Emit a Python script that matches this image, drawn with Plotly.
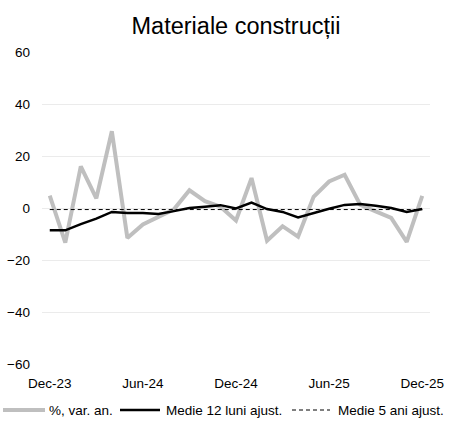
import plotly.graph_objects as go

months = ["Dec-23", "Jan-24", "Feb-24", "Mar-24", "Apr-24", "May-24", "Jun-24", "Jul-24",
          "Aug-24", "Sep-24", "Oct-24", "Nov-24", "Dec-24", "Jan-25", "Feb-25", "Mar-25",
          "Apr-25", "May-25", "Jun-25", "Jul-25", "Aug-25", "Sep-25", "Oct-25", "Nov-25", "Dec-25"]
var_an = [4.8, -13.3, 16, 3.7, 29.5, -11.5, -6.3, -3.5, -0.5, 6.8, 2.6, 0.5, -4.8, 11.5,
          -12.6, -7, -11, 4.3, 10.2, 12.8, 1.3, -1.3, -3.8, -13, 4.7]
medie12 = [-8.6, -8.6, -6.2, -4.1, -1.5, -1.9, -1.9, -2.3, -1.2, 0.0, 0.5, 1.1, -0.2, 2.1,
           -0.4, -1.5, -3.6, -1.9, -0.3, 1.2, 1.5, 0.9, 0.0, -1.5, -0.4]
medie5_val = -0.6
medie5 = [medie5_val] * len(months)
tick_labels = ["Dec-23", "Jun-24", "Dec-24", "Jun-25", "Dec-25"]
y_ticks = [-60, -40, -20, 0, 20, 40, 60]
series_names = ["%, var. an.", "Medie 12 luni ajust.", "Medie 5 ani ajust."]

W, H = 450, 428
ML, MR, MT, MB = 42, 20, 52, 64
PW, PH = W - ML - MR, H - MT - MB

def px_x(px):
    return (px - ML) / PW

def px_y(py):
    return (H - MB - py) / PH

styles = [dict(color="#bfbfbf", width=4),
          dict(color="#000000", width=2.5),
          dict(color="#000000", width=1, dash="4px,3px")]
series = [var_an, medie12, medie5]

fig = go.Figure()
for name, vals, st in zip(series_names, series, styles):
    fig.add_trace(go.Scatter(x=months, y=vals, mode="lines", name=name, line=st,
                             showlegend=False))

# custom legend (line sample + label), laid out like the reference
legend_layout = [(3, 45, 48), (120, 160, 165), (292, 330, 337)]
LEG_Y = 410
for (s0, s1, tx), name, st in zip(legend_layout, series_names, styles):
    fig.add_shape(type="line", xref="paper", yref="paper",
                  x0=px_x(s0), x1=px_x(s1), y0=px_y(LEG_Y), y1=px_y(LEG_Y),
                  line=dict(color=st["color"], width=st["width"], dash=st.get("dash", "solid")))
    fig.add_annotation(text=name, xref="paper", yref="paper", x=px_x(tx), y=px_y(LEG_Y),
                       xanchor="left", yanchor="middle", showarrow=False,
                       font=dict(size=13.5, color="#000000"), borderpad=0)

fig.update_layout(
    width=W, height=H,
    paper_bgcolor="white", plot_bgcolor="white",
    font=dict(family="Liberation Sans, Arial, sans-serif", size=13.5, color="#000000"),
    title=dict(text="Materiale construcții", x=0.5, xanchor="center", xref="paper",
               y=1 - 26 / H, yanchor="middle", font=dict(size=23.5, color="#000000")),
    margin=dict(l=ML, r=MR, t=MT, b=MB, autoexpand=False),
    showlegend=False,
    xaxis=dict(type="category", range=[-0.5, len(months) - 0.5],
               tickvals=tick_labels, ticktext=tick_labels, showgrid=False,
               showline=False, ticks="", tickfont=dict(size=13.5),
               ticklabelstandoff=9, automargin=False),
    yaxis=dict(range=[-60, 60], tickvals=y_ticks, showgrid=True, gridcolor="#ebebeb",
               gridwidth=1, zeroline=False, showline=False, ticks="",
               tickfont=dict(size=13.5), ticklabelstandoff=11, automargin=False),
)

fig.write_html("out.html", config={"displayModeBar": False},
               post_script="document.body.style.margin='0px';document.body.style.overflow='hidden';")
